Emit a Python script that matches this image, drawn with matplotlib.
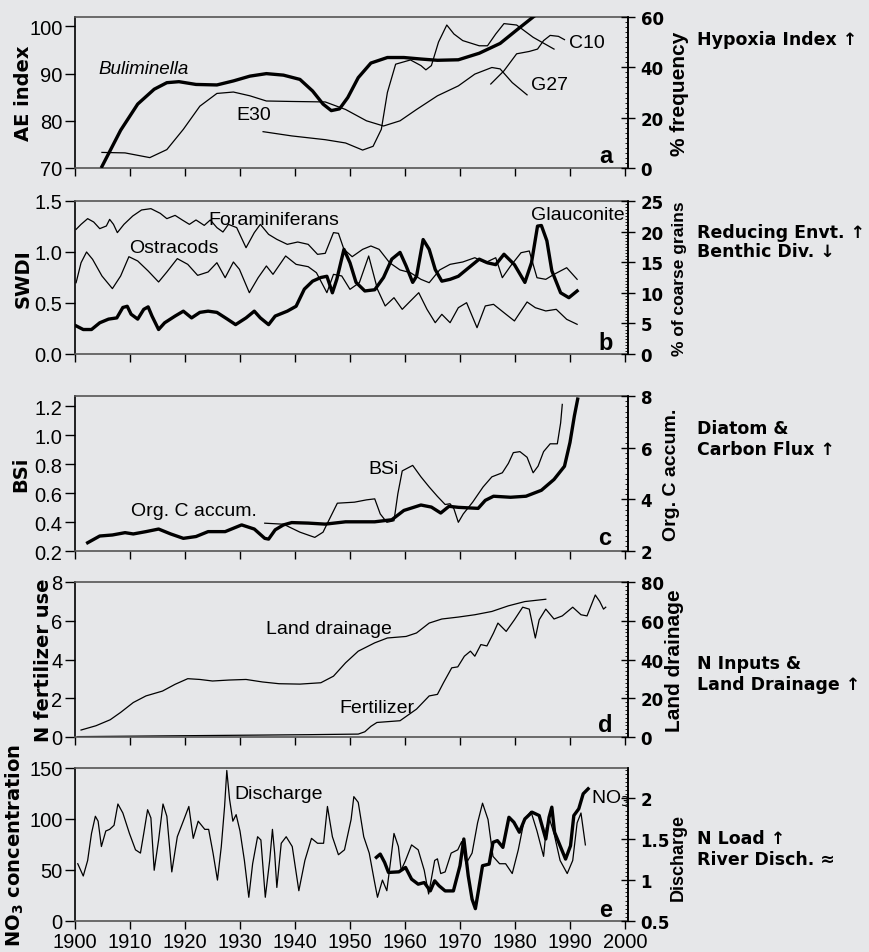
import matplotlib.pyplot as plt
from matplotlib import font_manager as fm
from matplotlib.ticker import MultipleLocator

names = {f.name for f in fm.fontManager.ttflist}
NARROW = 'Liberation Sans Narrow' if 'Liberation Sans Narrow' in names else 'Liberation Sans'
plt.rcParams['font.family'] = ['Liberation Sans', 'DejaVu Sans']

BG = '#e6e7e9'

# ---- panel a: AE index (left) / Buliminella % frequency (right)
bul_yr = [1904.9, 1908.3, 1911.4, 1914.4, 1916.7, 1918.9, 1922.0, 1925.8, 1928.8, 1931.8,
          1934.8, 1937.9, 1940.9, 1943.2, 1945.1, 1946.6, 1948.1, 1949.6, 1951.5, 1953.8,
          1956.8, 1959.8, 1962.9, 1965.9, 1969.7, 1973.5, 1977.3, 1980.3, 1983.3, 1984.5]
bul_pct = [0.6, 15.0, 25.4, 31.3, 33.9, 34.3, 33.2, 33.0, 34.6, 36.5,
           37.5, 36.9, 35.2, 30.6, 25.4, 22.8, 23.5, 28.0, 35.9, 41.7,
           43.9, 43.9, 43.3, 42.8, 43.0, 45.6, 49.5, 54.8, 60.0, 62.0]
e30_yr = [1904.9, 1909.1, 1913.6, 1916.7, 1919.7, 1922.7, 1925.8, 1928.8, 1931.8, 1934.8,
          1939.4, 1945.5, 1949.2, 1953.0, 1956.1, 1959.1, 1962.1, 1965.9, 1969.7, 1972.7,
          1975.8, 1977.3, 1979.5, 1982.2]
e30_ae = [73.3, 73.2, 72.2, 73.9, 78.2, 83.1, 85.8, 86.1, 85.3, 84.2,
          84.1, 84.0, 82.4, 80.0, 78.9, 80.0, 82.4, 85.3, 87.4, 89.9,
          91.3, 91.0, 88.1, 85.5]
c10_yr = [1934.2, 1939.4, 1945.5, 1949.2, 1952.3, 1954.2, 1955.7, 1956.8, 1958.3, 1961.0,
          1962.9, 1963.8, 1964.8, 1966.1, 1967.6, 1968.9, 1970.5, 1973.5, 1975.0, 1976.5,
          1978.0, 1980.3, 1983.3, 1987.1]
c10_ae = [77.7, 76.8, 76.0, 75.3, 73.8, 74.6, 78.2, 86.0, 92.0, 92.9,
          91.7, 90.8, 91.7, 96.7, 100.3, 98.4, 97.0, 95.9, 95.9, 98.4,
          100.6, 100.3, 97.7, 95.2]
g27_yr = [1975.6, 1978.0, 1980.3, 1982.6, 1984.1, 1985.2, 1986.4, 1987.9, 1989.0]
g27_ae = [87.8, 90.6, 94.2, 94.7, 95.2, 97.0, 98.1, 97.9, 97.2]

# ---- panel b: SWDI (left) / glauconite % coarse grains (right)
gla_yr = [1900.2, 1901.5, 1903.0, 1904.5, 1906.1, 1907.6, 1908.7, 1909.5, 1910.2, 1911.4,
          1912.5, 1913.3, 1914.0, 1915.2, 1916.3, 1918.2, 1919.7, 1921.2, 1922.7, 1924.2,
          1925.8, 1927.7, 1929.2, 1931.1, 1932.6, 1933.7, 1935.2, 1936.4, 1938.6, 1940.2,
          1941.7, 1943.2, 1944.7, 1945.8, 1946.8, 1947.6, 1948.9, 1950.0, 1951.1, 1952.7,
          1954.5, 1956.1, 1957.6, 1959.1, 1960.2, 1961.4, 1962.1, 1963.3, 1964.4, 1965.5,
          1966.7, 1968.2, 1969.7, 1972.0, 1973.5, 1975.0, 1976.5, 1978.0, 1979.9, 1981.8,
          1983.0, 1984.1, 1984.8, 1985.8, 1986.7, 1988.3, 1989.8, 1991.3]
gla_pct = [4.6, 4.0, 4.0, 5.1, 5.7, 5.9, 7.6, 7.8, 6.5, 5.7,
           7.3, 7.7, 6.2, 4.0, 5.1, 6.2, 7.0, 5.9, 6.8, 7.0,
           6.8, 5.7, 4.8, 5.9, 7.0, 5.9, 4.8, 6.2, 7.0, 7.8,
           10.6, 11.9, 12.5, 12.7, 10.0, 12.2, 17.1, 14.9, 11.7, 10.3,
           10.5, 12.5, 15.5, 16.6, 14.4, 11.7, 12.7, 18.7, 17.1, 13.8,
           11.9, 12.2, 12.7, 14.4, 15.5, 14.9, 14.6, 16.3, 14.6, 11.7,
           14.9, 20.9, 21.0, 18.5, 13.6, 10.0, 9.2, 10.3]
for_yr = [1900.2, 1901.1, 1902.3, 1903.4, 1904.5, 1905.7, 1906.3, 1907.0, 1907.7, 1908.9,
          1910.5, 1912.1, 1913.8, 1915.5, 1916.7, 1918.2, 1919.5, 1920.8, 1922.0, 1923.5,
          1924.6, 1925.8, 1926.9, 1927.9, 1929.4, 1931.1, 1932.6, 1933.7, 1935.2, 1936.7,
          1938.6, 1940.5, 1942.4, 1944.1, 1945.5, 1947.0, 1947.9, 1948.9, 1950.4, 1952.3,
          1953.8, 1955.3, 1957.2, 1959.1, 1961.0, 1962.9, 1964.4, 1966.3, 1968.2, 1970.5,
          1972.7, 1974.6, 1976.5, 1977.7, 1979.2, 1981.1, 1982.6, 1984.0, 1985.6, 1987.1,
          1989.4, 1991.3]
for_swdi = [1.222, 1.271, 1.327, 1.294, 1.229, 1.255, 1.320, 1.271, 1.190, 1.271,
            1.353, 1.412, 1.425, 1.379, 1.327, 1.359, 1.314, 1.271, 1.314, 1.261,
            1.314, 1.239, 1.196, 1.271, 1.239, 1.042, 1.190, 1.271, 1.173, 1.124,
            1.075, 1.098, 1.075, 0.977, 0.987, 1.190, 1.183, 1.026, 0.954, 1.026,
            1.059, 1.026, 0.895, 0.824, 0.797, 0.732, 0.699, 0.824, 0.879, 0.902,
            0.944, 0.895, 0.944, 0.748, 0.863, 0.993, 1.010, 0.748, 0.732, 0.781,
            0.846, 0.732]
ost_yr = [1900.2, 1901.1, 1902.1, 1903.2, 1904.9, 1906.8, 1908.3, 1909.8, 1911.4, 1913.3,
          1915.2, 1916.7, 1918.6, 1920.5, 1922.3, 1924.2, 1925.8, 1927.3, 1928.8, 1929.9,
          1931.7, 1933.3, 1934.8, 1936.0, 1938.3, 1940.2, 1942.4, 1943.9, 1945.8, 1947.0,
          1948.5, 1950.0, 1951.7, 1953.4, 1955.0, 1956.4, 1958.0, 1959.5, 1961.0, 1962.5,
          1964.0, 1965.5, 1966.7, 1968.2, 1969.7, 1971.2, 1973.1, 1974.6, 1976.1, 1978.0,
          1979.9, 1982.2, 1983.7, 1985.6, 1987.5, 1989.4, 1991.3]
ost_swdi = [0.699, 0.895, 1.000, 0.928, 0.765, 0.641, 0.765, 0.954, 0.912, 0.814,
            0.706, 0.804, 0.935, 0.879, 0.771, 0.804, 0.895, 0.748, 0.902, 0.830,
            0.601, 0.748, 0.863, 0.781, 0.961, 0.879, 0.856, 0.797, 0.601, 0.781,
            0.765, 0.634, 0.699, 0.961, 0.634, 0.471, 0.552, 0.438, 0.520, 0.601,
            0.438, 0.307, 0.389, 0.307, 0.454, 0.503, 0.258, 0.471, 0.487, 0.405,
            0.324, 0.510, 0.454, 0.422, 0.438, 0.340, 0.291]

# ---- panel c: BSi (left) / Org. C accumulation (right)
bsi_yr = [1934.5, 1937.9, 1940.9, 1943.6, 1945.1, 1946.0, 1947.7, 1950.8, 1953.0, 1954.5,
          1955.5, 1956.7, 1958.0, 1958.7, 1959.5, 1961.4, 1962.9, 1964.4, 1965.9, 1967.3,
          1968.2, 1968.9, 1969.7, 1970.6, 1972.3, 1974.2, 1975.8, 1977.7, 1978.8, 1979.7,
          1980.9, 1982.2, 1983.3, 1984.2, 1985.2, 1986.4, 1987.7, 1988.3, 1988.6]
bsi_val = [0.392, 0.385, 0.330, 0.294, 0.330, 0.400, 0.530, 0.537, 0.553, 0.560,
           0.456, 0.398, 0.409, 0.595, 0.753, 0.791, 0.712, 0.642, 0.577, 0.521,
           0.526, 0.491, 0.398, 0.456, 0.537, 0.642, 0.712, 0.740, 0.805, 0.879,
           0.886, 0.847, 0.740, 0.786, 0.886, 0.940, 0.940, 1.084, 1.212]
orgc_yr = [1902.3, 1904.5, 1906.8, 1909.1, 1910.6, 1912.9, 1915.2, 1917.4, 1919.7, 1922.0,
           1924.2, 1927.3, 1930.3, 1932.6, 1934.5, 1935.2, 1936.4, 1937.9, 1939.4, 1942.4,
           1945.5, 1949.2, 1954.5, 1957.6, 1959.8, 1962.9, 1964.8, 1966.5, 1968.0, 1969.7,
           1973.3, 1974.6, 1976.1, 1979.2, 1982.0, 1984.8, 1987.1, 1989.0, 1990.0, 1990.8,
           1991.4]
orgc_val = [2.32, 2.58, 2.62, 2.71, 2.66, 2.75, 2.85, 2.66, 2.49, 2.56,
            2.75, 2.75, 3.01, 2.85, 2.49, 2.46, 2.82, 3.01, 3.10, 3.08,
            3.04, 3.13, 3.13, 3.21, 3.57, 3.78, 3.70, 3.47, 3.73, 3.69,
            3.65, 3.96, 4.12, 4.08, 4.12, 4.35, 4.77, 5.28, 6.20, 7.23,
            7.88]

# ---- panel d: N fertilizer use (left) / land drainage (right)
drain_yr = [1901.1, 1903.8, 1906.4, 1908.3, 1910.6, 1912.9, 1915.9, 1918.2, 1920.5, 1922.7,
            1925.0, 1928.0, 1931.1, 1934.1, 1937.1, 1940.9, 1944.7, 1947.0, 1949.2, 1951.5,
            1954.5, 1956.8, 1960.2, 1962.1, 1964.4, 1966.7, 1969.7, 1972.7, 1975.8, 1978.8,
            1981.8, 1985.6]
drain_pct = [3.6, 5.8, 8.9, 12.7, 17.8, 21.2, 23.7, 27.2, 30.1, 29.7,
             28.9, 29.4, 29.7, 28.4, 27.5, 27.3, 28.0, 31.4, 38.3, 44.3,
             48.6, 51.1, 51.9, 53.7, 58.8, 60.9, 61.9, 63.1, 64.8, 67.7,
             69.9, 71.1]
fert_yr = [1900.5, 1942.4, 1951.5, 1952.7, 1953.8, 1954.9, 1959.1, 1962.1, 1964.4, 1965.9,
           1967.0, 1968.5, 1969.6, 1970.8, 1971.9, 1972.7, 1973.8, 1974.9, 1976.1, 1976.9,
           1978.4, 1979.9, 1981.4, 1982.6, 1983.7, 1984.4, 1985.6, 1987.1, 1988.6, 1990.5,
           1992.0, 1993.1, 1994.6, 1995.4, 1996.1, 1996.5]
fert_use = [0.02, 0.12, 0.15, 0.27, 0.55, 0.75, 0.84, 1.44, 2.12, 2.20,
            2.80, 3.57, 3.62, 4.17, 4.43, 4.17, 4.77, 4.70, 5.37, 5.88,
            5.45, 6.05, 6.70, 6.60, 5.11, 6.05, 6.60, 6.09, 6.25, 6.70,
            6.31, 6.25, 7.33, 7.00, 6.60, 6.70]

# ---- panel e: NO3 concentration (left) / discharge (right)
dis_yr = [1900.5, 1901.5, 1902.3, 1903.0, 1903.7, 1904.2, 1904.8, 1905.6, 1906.3, 1907.1,
          1907.8, 1908.7, 1909.9, 1911.0, 1911.9, 1912.5, 1913.2, 1913.8, 1914.4, 1915.2,
          1916.0, 1916.7, 1917.6, 1918.6, 1919.8, 1920.7, 1921.5, 1922.4, 1923.6, 1924.3,
          1925.1, 1925.9, 1926.6, 1927.2, 1927.6, 1928.1, 1928.7, 1929.3, 1930.0, 1930.8,
          1931.6, 1932.3, 1933.2, 1933.8, 1934.6, 1935.4, 1935.9, 1936.3, 1936.7, 1937.5,
          1938.4, 1939.5, 1940.7, 1941.8, 1943.0, 1944.1, 1945.2, 1945.9, 1946.8, 1947.9,
          1949.0, 1950.2, 1950.7, 1951.5, 1952.5, 1953.5, 1954.4, 1955.0, 1955.9, 1956.7,
          1957.4, 1958.0, 1958.8, 1959.3, 1960.1, 1961.2, 1962.4, 1963.5, 1964.3, 1965.4,
          1965.9, 1966.5, 1967.3, 1968.4, 1969.6, 1970.3, 1971.1, 1972.2, 1973.2, 1974.1,
          1975.1, 1976.0, 1977.2, 1978.3, 1979.5, 1980.6, 1981.7, 1982.9, 1984.0, 1985.2,
          1985.7, 1986.3, 1987.1, 1988.2, 1989.5, 1990.5, 1991.3, 1992.0, 1992.8]
dis_q = [1.20, 1.05, 1.24, 1.57, 1.78, 1.72, 1.41, 1.60, 1.62, 1.67,
         1.93, 1.82, 1.57, 1.37, 1.33, 1.57, 1.86, 1.76, 1.12, 1.49,
         1.93, 1.78, 1.10, 1.53, 1.74, 1.90, 1.51, 1.72, 1.62, 1.62,
         1.33, 1.00, 1.41, 1.90, 2.34, 1.99, 1.72, 1.80, 1.60, 1.24,
         0.79, 1.20, 1.53, 1.49, 0.79, 1.24, 1.62, 1.33, 0.91, 1.45,
         1.53, 1.41, 0.87, 1.24, 1.51, 1.45, 1.45, 1.90, 1.53, 1.31,
         1.37, 1.74, 2.02, 1.95, 1.53, 1.33, 1.00, 0.79, 1.00, 0.87,
         1.24, 1.57, 1.41, 1.12, 1.24, 1.43, 1.37, 1.12, 0.83, 1.24,
         1.26, 1.08, 1.10, 1.33, 1.37, 1.47, 1.20, 1.33, 1.70, 1.94,
         1.74, 1.29, 1.20, 1.20, 1.08, 1.37, 1.74, 1.84, 1.60, 1.29,
         1.64, 1.74, 1.57, 1.24, 1.08, 1.24, 1.70, 1.82, 1.43]
no3_yr = [1954.8, 1955.5, 1956.3, 1957.0, 1958.9, 1960.1, 1961.2, 1962.4, 1963.5, 1964.6,
          1965.4, 1966.2, 1967.3, 1968.8, 1970.0, 1970.7, 1971.5, 1972.2, 1972.8, 1973.4,
          1974.1, 1975.3, 1976.0, 1976.8, 1977.8, 1978.9, 1979.8, 1980.8, 1981.8, 1983.1,
          1984.4, 1985.6, 1986.2, 1986.7, 1987.2, 1988.2, 1989.2, 1990.1, 1990.7, 1991.6,
          1992.4, 1993.3]
no3_conc = [62.4, 65.6, 57.4, 47.6, 48.2, 52.5, 41.0, 36.1, 37.7, 29.5,
            39.4, 34.5, 29.5, 29.5, 54.2, 80.4, 44.3, 21.3, 12.1, 31.2,
            54.2, 55.8, 77.1, 78.8, 72.2, 101.7, 96.8, 87.0, 100.1, 106.7,
            103.4, 80.4, 101.7, 111.6, 87.0, 73.8, 60.7, 73.8, 103.4, 110.0,
            124.7, 129.6]

years = list(range(1900, 2001, 10))

W, H = 869, 953
fig = plt.figure(figsize=(W / 100, H / 100), dpi=100, facecolor=BG)

X0, X1 = 75, 628
THICK, THIN = 2.4, 0.9


def px_x(px):
    return (px - X0) / (X1 - X0)


def make_panel(top, bottom, ylim, yticks, ylim2, yticks2, ylab, ylab2,
               lab_x, lab2_x, lab2_size, fmt=None, show_x=False, lab2_y=0.5):
    ax = fig.add_axes([X0 / W, 1 - bottom / H, (X1 - X0) / W, (bottom - top) / H])
    ax.set_facecolor(BG)
    ax.set_xlim(1900, 2000.55)
    ax.set_ylim(*ylim)
    ax.set_xticks(years)
    ax.set_yticks(yticks)
    if fmt:
        ax.set_yticklabels([fmt.format(v) for v in yticks])
    ax.tick_params(axis='x', direction='out', length=6, width=1, labelsize=14.5,
                   labelbottom=show_x, pad=2)
    ax.tick_params(axis='y', direction='out', length=7, width=1, labelsize=14.5, pad=2)
    for s in ax.spines.values():
        s.set_linewidth(1.2)
    ax.spines['top'].set_color('#555555')
    ax.spines['bottom'].set_color('#555555')
    ax.set_ylabel(ylab, fontsize=14, fontweight='bold', family='DejaVu Sans')
    ax.yaxis.set_label_coords(px_x(lab_x), 0.5)

    ax2 = ax.twinx()
    ax2.set_ylim(*ylim2)
    ax2.set_yticks(yticks2)
    ax2.set_yticklabels([str(v) for v in yticks2])
    ax2.tick_params(axis='y', direction='inout', length=10, width=1, pad=4)
    for lab in ax2.get_yticklabels():
        lab.set_family('DejaVu Sans')
        lab.set_fontweight('bold')
        lab.set_fontsize(12)
    ax2.yaxis.set_minor_locator(MultipleLocator((yticks2[1] - yticks2[0]) / 10))
    ax2.tick_params(axis='y', which='minor', direction='in', length=2.5, width=0.6)
    ax2.set_ylabel(ylab2, fontsize=lab2_size, fontweight='bold', family=NARROW)
    ax2.yaxis.set_label_coords(px_x(lab2_x), lab2_y)
    for s in ax2.spines.values():
        s.set_visible(False)
    ax2.spines['right'].set_visible(True)
    ax2.spines['right'].set_linewidth(1.2)
    return ax, ax2


# panel a
ax, ax2 = make_panel(18, 169, (70, 102), [70, 80, 90, 100], (0, 60), [0, 20, 40, 60],
                     'AE index', '% frequency', 33, 670, 15)
ax2.plot(bul_yr, bul_pct, color='black', lw=THICK)
ax.plot(e30_yr, e30_ae, color='black', lw=THIN)
ax.plot(c10_yr, c10_ae, color='black', lw=THIN)
ax.plot(g27_yr, g27_ae, color='black', lw=THIN)
ax.text(1904.2, 91, 'Buliminella', fontsize=13.5, style='italic', va='center')
ax.text(1932.5, 81.4, 'E30', fontsize=14, ha='center', va='center')
ax.text(1989.8, 96.6, 'C10', fontsize=14, va='center')
ax.text(1983.0, 87.8, 'G27', fontsize=14, va='center')
ax.text(1996.6, 72.6, 'a', fontsize=17, fontweight='bold', ha='center', va='center')

# panel b
ax, ax2 = make_panel(202, 355, (0, 1.5), [0, 0.5, 1.0, 1.5], (0, 25), [0, 5, 10, 15, 20, 25],
                     'SWDI', '% of coarse grains', 33, 672, 12.5, fmt='{:.1f}')
ax.plot(for_yr, for_swdi, color='black', lw=THIN)
ax.plot(ost_yr, ost_swdi, color='black', lw=THIN)
ax2.plot(gla_yr, gla_pct, color='black', lw=THICK)
ax.text(1924.2, 1.32, 'Foraminiferans', fontsize=14, va='center')
ax.text(1909.8, 1.04, 'Ostracods', fontsize=14, va='center')
ax.text(1983.0, 1.37, 'Glauconite', fontsize=14, va='center')
ax.text(1996.5, 0.11, 'b', fontsize=17, fontweight='bold', ha='center', va='center')

# panel c
ax, ax2 = make_panel(397, 552, (0.2, 1.27), [0.2, 0.4, 0.6, 0.8, 1.0, 1.2], (2, 8), [2, 4, 6, 8],
                     'BSi', 'Org. C accum.', 30, 663, 14, fmt='{:.1f}')
ax.plot(bsi_yr, bsi_val, color='black', lw=THIN)
ax2.plot(orgc_yr, orgc_val, color='black', lw=THICK)
ax.text(1910.2, 0.478, 'Org. C accum.', fontsize=14, va='center')
ax.text(1953.4, 0.77, 'BSi', fontsize=14, va='center')
ax.text(1996.3, 0.29, 'c', fontsize=17, fontweight='bold', ha='center', va='center')

# panel d
ax, ax2 = make_panel(583, 738, (0, 8), [0, 2, 4, 6, 8], (0, 80), [0, 20, 40, 60, 80],
                     'N fertilizer use', 'Land drainage', 53, 665, 15)
ax2.plot(drain_yr, drain_pct, color='black', lw=THIN)
ax.plot(fert_yr, fert_use, color='black', lw=THIN)
ax.text(1934.8, 5.62, 'Land drainage', fontsize=14, va='center')
ax.text(1948.0, 1.54, 'Fertilizer', fontsize=14, va='center')
ax.text(1996.5, 0.67, 'd', fontsize=17, fontweight='bold', ha='center', va='center')

# panel e
ax, ax2 = make_panel(769, 922, (0, 150), [0, 50, 100, 150], (0.5, 2.37), [0.5, 1, 1.5, 2],
                     r'NO$_\mathbf{3}$ concentration', 'Discharge', 26, 670, 13,
                     show_x=True, lab2_y=0.42)
ax2.plot(dis_yr, dis_q, color='black', lw=THIN)
ax.plot(no3_yr, no3_conc, color='black', lw=THICK)
ax.text(1928.9, 124.7, 'Discharge', fontsize=14, va='center')
ax.text(1993.9, 120.8, r'NO$_3$', fontsize=14, va='center')
ax.text(1996.5, 11.5, 'e', fontsize=17, fontweight='bold', ha='center', va='center')

# right-hand summaries
side = [(40, 'Hypoxia Index \u2191'),
        (233, 'Reducing Envt. \u2191'), (252, 'Benthic Div. \u2193'),
        (429, 'Diatom &'), (450, 'Carbon Flux \u2191'),
        (664, 'N Inputs &'), (685, 'Land Drainage \u2191'),
        (839, 'N Load \u2191'), (860, 'River Disch. \u2248')]
for y, s in side:
    fig.text(697 / W, 1 - y / H, s, fontsize=12.5, fontweight='bold', family='DejaVu Sans',
             va='center', ha='left')

fig.savefig('out.png', dpi=100, facecolor=BG)
